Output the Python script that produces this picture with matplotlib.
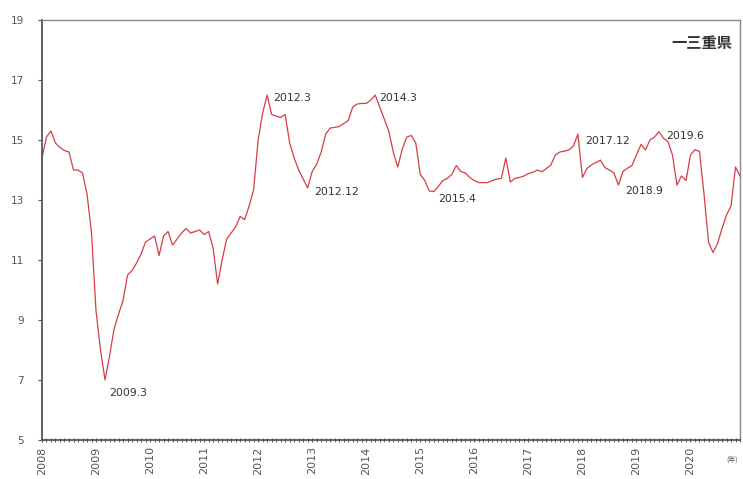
import matplotlib
matplotlib.use("Agg")
import matplotlib.pyplot as plt
import numpy as np
from matplotlib.ticker import MultipleLocator

plt.rcParams['font.family'] = ['DejaVu Sans', 'Noto Sans CJK JP']

start_year = 2008
values = [
    14.4, 15.1, 15.3, 14.9, 14.75, 14.65, 14.6, 14.0, 14.0, 13.9, 13.2, 11.9,   # 2008
    9.3, 8.0, 7.0, 7.8, 8.7, 9.2, 9.65, 10.5, 10.65, 10.9, 11.2, 11.6,          # 2009
    11.7, 11.8, 11.15, 11.8, 11.95, 11.5, 11.7, 11.9, 12.05, 11.9, 11.95, 12.0, # 2010
    11.85, 11.95, 11.4, 10.2, 11.0, 11.7, 11.9, 12.1, 12.45, 12.35, 12.8, 13.35,# 2011
    15.0, 15.9, 16.5, 15.85, 15.8, 15.75, 15.85, 14.9, 14.4, 14.0, 13.7, 13.4,  # 2012
    13.95, 14.2, 14.6, 15.2, 15.4, 15.42, 15.45, 15.55, 15.65, 16.1, 16.2, 16.22,# 2013
    16.22, 16.33, 16.5, 16.1, 15.7, 15.3, 14.6, 14.1, 14.7, 15.1, 15.15, 14.9,  # 2014
    13.85, 13.65, 13.3, 13.28, 13.45, 13.65, 13.72, 13.85, 14.15, 13.95, 13.9, 13.75, # 2015
    13.65, 13.58, 13.58, 13.58, 13.65, 13.7, 13.72, 14.4, 13.6, 13.72, 13.75, 13.8,   # 2016
    13.88, 13.92, 14.0, 13.94, 14.05, 14.17, 14.5, 14.6, 14.63, 14.67, 14.8, 15.2,    # 2017
    13.75, 14.05, 14.17, 14.25, 14.33, 14.08, 14.0, 13.9, 13.5, 13.95, 14.06, 14.15,  # 2018
    14.5, 14.85, 14.67, 15.0, 15.1, 15.28, 15.06, 14.95, 14.5, 13.5, 13.8, 13.65,     # 2019
    14.5, 14.68, 14.62, 13.2, 11.6, 11.25, 11.55, 12.05, 12.5, 12.8, 14.1, 13.8,      # 2020
]
series_name = "三重県"
year_labels = [str(y) for y in range(2008, 2021)]
annot_labels = ["2009.3", "2012.3", "2012.12", "2014.3", "2015.4", "2017.12", "2018.9", "2019.6"]

x = start_year + np.arange(len(values)) / 12.0

fig = plt.figure(figsize=(7.43, 4.79), dpi=100)
ax = fig.add_axes([0.0565, 0.0814, 0.9395, 0.8768])
ax.plot(x, values, color='#d83c44', lw=0.9)

ax.set_xlim(start_year, start_year + (len(values) - 1) / 12.0)
ax.set_ylim(5, 19)
ax.set_yticks(range(5, 20, 2))
ax.set_xticks(range(2008, 2021))
ax.set_xticklabels(year_labels, rotation=90, fontsize=8, color='#555555')
ax.xaxis.set_minor_locator(MultipleLocator(1 / 12))
ax.tick_params(axis='x', which='major', length=3, direction='inout', color='#555555', pad=3)
ax.tick_params(axis='x', which='minor', length=3, direction='inout', color='#666666', width=0.8)
ax.tick_params(axis='y', length=3, color='#555555', labelsize=7.5, labelcolor='#555555', pad=10)

for s in ['left', 'bottom']:
    ax.spines[s].set_color('#555555')
    ax.spines[s].set_linewidth(1.3)
for s in ['top', 'right']:
    ax.spines[s].set_color('#888888')
    ax.spines[s].set_linewidth(1.0)

offsets = {
    "2009.3": (3, -9),
    "2012.3": (4, -2),
    "2012.12": (5, -3),
    "2014.3": (3, -2),
    "2015.4": (3, -5),
    "2017.12": (5, -5),
    "2018.9": (5, -4),
    "2019.6": (5, -3),
}
for lab in annot_labels:
    yr, mo = lab.split(".")
    idx = (int(yr) - start_year) * 12 + int(mo) - 1
    ax.annotate(lab, (x[idx], values[idx]), xytext=offsets[lab], textcoords='offset points',
                fontsize=7.8, color='#333333', ha='left', va='center')

ax.text(0.9885, 0.945, "一" + series_name, transform=ax.transAxes, ha='right', va='center',
        fontsize=11, color='#333333', fontweight='bold', family=['Noto Sans CJK JP', 'DejaVu Sans'])
fig.text(0.985, 0.04, "(年)", fontsize=5, color='#555555', ha='center', va='center',
         family=['Noto Sans CJK JP', 'DejaVu Sans'])

fig.savefig("out.png", dpi=100)
